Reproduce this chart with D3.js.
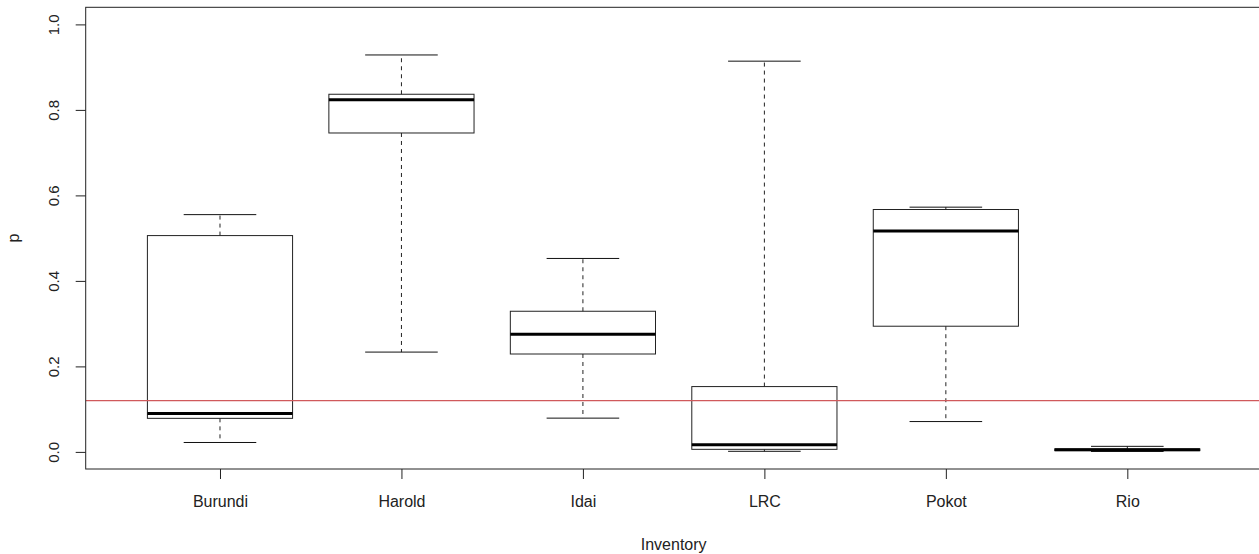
<!DOCTYPE html>
<html>
<head>
<meta charset="utf-8">
<script src="https://cdn.jsdelivr.net/npm/d3@7"></script>
<style>
  html, body { margin: 0; padding: 0; background: #fff; }
  svg { display: block; font-family: "Liberation Sans", Arial, sans-serif; }
  .axis text { fill: #222; }
  .axis line { stroke: #222; }
  .axis-title { fill: #222; font-size: 16px; }
</style>
</head>
<body>
<svg id="boxplot"></svg>
<script>
// Values
const inventories = ["Burundi", "Harold", "Idai", "LRC", "Pokot", "Rio"];
const lowerWhisker = [0.022, 0.2335, 0.079, 0.0014, 0.071, 0.001];
const lowerHinge   = [0.0785, 0.746, 0.229, 0.006, 0.294, 0.003];
const medians      = [0.090, 0.824, 0.275, 0.0168, 0.517, 0.005];
const upperHinge   = [0.506, 0.8366, 0.329, 0.1528, 0.567, 0.007];
const upperWhisker = [0.555, 0.9285, 0.4525, 0.914, 0.5725, 0.013];
const yTicks = [0, 0.2, 0.4, 0.6, 0.8, 1.0];
const threshold = 0.12;

class BoxPlot {
  constructor(_config, _data) {
    this.config = {
      parentElement: _config.parentElement,
      containerWidth: _config.containerWidth || 1259,
      containerHeight: _config.containerHeight || 554,
      margin: _config.margin || { top: 7.3, right: -2.6, bottom: 85, left: 85.7 },
    };
    this.data = _data;
    this.initVis();
  }

  initVis() {
    let vis = this;

    vis.width = vis.config.containerWidth - vis.config.margin.left - vis.config.margin.right;
    vis.height = vis.config.containerHeight - vis.config.margin.top - vis.config.margin.bottom;

    // R style: groups at 1..n, xlim (0.5, n + 0.5) widened by 4%
    const n = vis.data.length;
    vis.xScale = d3.scaleLinear()
      .domain([0.5 - 0.04 * n, n + 0.5 + 0.04 * n])
      .range([0, vis.width]);

    vis.yScale = d3.scaleLinear()
      .domain([-0.04, 1.04])
      .range([vis.height, 0]);

    vis.xAxis = d3.axisBottom(vis.xScale)
      .tickValues(d3.range(1, n + 1))
      .tickFormat((d) => inventories[d - 1])
      .tickSize(10)
      .tickSizeOuter(0);

    vis.yAxis = d3.axisLeft(vis.yScale)
      .tickValues(yTicks)
      .tickFormat(d3.format(".1f"))
      .tickSize(10)
      .tickSizeOuter(0);

    vis.svg = d3.select(vis.config.parentElement)
      .attr("width", vis.config.containerWidth)
      .attr("height", vis.config.containerHeight);

    vis.chart = vis.svg.append("g")
      .attr("transform", `translate(${vis.config.margin.left},${vis.config.margin.top})`);

    vis.chart.append("defs").append("clipPath")
      .attr("id", "plot-clip")
      .append("rect")
      .attr("width", vis.width)
      .attr("height", vis.height);

    vis.xAxisG = vis.chart.append("g")
      .attr("class", "axis x-axis")
      .attr("transform", `translate(0,${vis.height})`);

    vis.yAxisG = vis.chart.append("g").attr("class", "axis y-axis");

    vis.marks = vis.chart.append("g");

    // Axis titles
    vis.svg.append("text")
      .attr("class", "axis-title")
      .attr("x", vis.config.margin.left + vis.xScale(3.5))
      .attr("y", 550)
      .attr("text-anchor", "middle")
      .text("Inventory");

    vis.svg.append("text")
      .attr("class", "axis-title")
      .attr("transform", `translate(19,${vis.config.margin.top + vis.height / 2}) rotate(-90)`)
      .attr("text-anchor", "middle")
      .text("p");
  }

  renderVis() {
    let vis = this;
    const step = vis.xScale(2) - vis.xScale(1);
    const boxW = step * 0.8;
    const capW = boxW / 2;

    const groups = vis.marks.selectAll(".group")
      .data(vis.data)
      .join("g")
      .attr("class", "group")
      .attr("transform", (d) => `translate(${vis.xScale(d.pos)},0)`);

    // Dashed whiskers
    groups.append("line")
      .attr("y1", (d) => vis.yScale(d.q3))
      .attr("y2", (d) => vis.yScale(d.uw))
      .attr("stroke", "#222")
      .attr("stroke-dasharray", "4,4");

    groups.append("line")
      .attr("y1", (d) => vis.yScale(d.q1))
      .attr("y2", (d) => vis.yScale(d.lw))
      .attr("stroke", "#222")
      .attr("stroke-dasharray", "4,4");

    // Staples
    groups.selectAll(".cap")
      .data((d) => [d.uw, d.lw])
      .join("line")
      .attr("class", "cap")
      .attr("x1", -capW / 2)
      .attr("x2", capW / 2)
      .attr("y1", (v) => vis.yScale(v))
      .attr("y2", (v) => vis.yScale(v))
      .attr("stroke", "#111");

    // Boxes
    groups.append("rect")
      .attr("x", -boxW / 2)
      .attr("width", boxW)
      .attr("y", (d) => vis.yScale(d.q3))
      .attr("height", (d) => Math.max(0.5, vis.yScale(d.q1) - vis.yScale(d.q3)))
      .attr("fill", "none")
      .attr("stroke", "#222");

    // Medians
    groups.append("line")
      .attr("x1", -boxW / 2)
      .attr("x2", boxW / 2)
      .attr("y1", (d) => vis.yScale(d.median))
      .attr("y2", (d) => vis.yScale(d.median))
      .attr("stroke", "#000")
      .attr("stroke-width", 3);

    // Reference line
    vis.chart.append("line")
      .attr("clip-path", "url(#plot-clip)")
      .attr("x1", 0)
      .attr("x2", vis.width)
      .attr("y1", vis.yScale(threshold))
      .attr("y2", vis.yScale(threshold))
      .attr("stroke", "#d0595b")
      .attr("stroke-width", 1.2);

    // Axes
    vis.xAxisG.call(vis.xAxis).call((g) => g.select(".domain").remove());
    vis.xAxisG.selectAll("text")
      .attr("y", 38)
      .attr("dy", 0)
      .style("font-size", "16px");

    vis.yAxisG.call(vis.yAxis).call((g) => g.select(".domain").remove());
    vis.yAxisG.selectAll("text")
      .attr("transform", "rotate(-90)")
      .attr("x", 0)
      .attr("y", -27.2)
      .attr("dy", 0)
      .attr("text-anchor", "middle")
      .style("font-size", "15px");

    // Plot frame
    vis.chart.append("rect")
      .attr("width", vis.width)
      .attr("height", vis.height)
      .attr("fill", "none")
      .attr("stroke", "#222");
  }
}

const boxData = inventories.map((name, i) => ({
  name: name,
  pos: i + 1,
  lw: lowerWhisker[i],
  q1: lowerHinge[i],
  median: medians[i],
  q3: upperHinge[i],
  uw: upperWhisker[i],
}));

const boxplot = new BoxPlot({ parentElement: "#boxplot" }, boxData);
boxplot.renderVis();
</script>
</body>
</html>
